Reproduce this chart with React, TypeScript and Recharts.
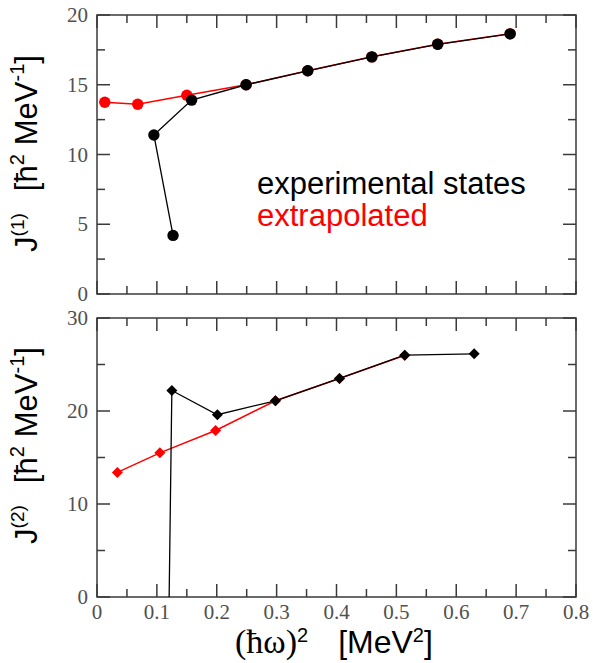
import { Label, Legend, ReferenceArea, Scatter, ScatterChart, XAxis, YAxis } from "recharts";

// tick values
const omegaTicks = [0, 0.05, 0.1, 0.15, 0.2, 0.25, 0.3, 0.35, 0.4, 0.45, 0.5, 0.55, 0.6, 0.65, 0.7, 0.75, 0.8];
const j1Ticks = [0, 2.5, 5, 7.5, 10, 12.5, 15, 17.5, 20];
const j2Ticks = [0, 5, 10, 15, 20, 25, 30];

// J(1) - points listed in the order they are joined
const j1ExpOmega2 = [0.127, 0.095, 0.158, 0.249, 0.352, 0.459, 0.569, 0.69];
const j1ExpValues = [4.2, 11.4, 13.9, 15.0, 16.0, 17.0, 17.9, 18.65];
const j1ExtOmega2 = [0.013, 0.068, 0.15, 0.249, 0.352, 0.459, 0.569, 0.69];
const j1ExtValues = [13.75, 13.6, 14.25, 15.0, 16.0, 17.0, 17.9, 18.65];

// J(2)
const j2ExpOmega2 = [0.1205, 0.125, 0.201, 0.298, 0.405, 0.514, 0.63];
const j2ExpValues = [0, 22.2, 19.6, 21.1, 23.5, 26.0, 26.15];
const j2ExtOmega2 = [0.034, 0.105, 0.198, 0.298, 0.405, 0.514];
const j2ExtValues = [13.4, 15.5, 17.9, 21.1, 23.5, 26.0];

const seriesNames = ["experimental states", "extrapolated"];

const zip = (xs: number[], ys: number[]) => xs.map((x, i) => ({ x, y: ys[i] }));

const RED = "#ff0000";
const FRAME = "#3a3a3a";
const TICK_TEXT = "#505050";
const W = 593;
const PLOT_RIGHT = 576;

const isMajor = (v: number, step: number) => Math.abs(v / step - Math.round(v / step)) < 1e-6;

const makeXTick = (plotTop: number, labels: boolean) => (props: any) => {
  const { x, y, payload } = props;
  const major = isMajor(payload.value, 0.1);
  const len = major ? 13 : 8;
  return (
    <g>
      <line x1={x} x2={x} y1={y} y2={y - len} stroke={FRAME} strokeWidth={1.5} />
      <line x1={x} x2={x} y1={plotTop} y2={plotTop + len} stroke={FRAME} strokeWidth={1.5} />
      {labels && major && (
        <text x={x} y={y + 15} textAnchor="middle" dominantBaseline="central" fontSize={21} fontFamily="Liberation Serif" fill={TICK_TEXT}>
          {payload.value === 0 ? "0" : payload.value.toFixed(1)}
        </text>
      )}
    </g>
  );
};

const makeYTick = (step: number) => (props: any) => {
  const { x, y, payload } = props;
  const major = isMajor(payload.value, step);
  const len = major ? 13 : 8;
  return (
    <g>
      <line x1={x} x2={x + len} y1={y} y2={y} stroke={FRAME} strokeWidth={1.5} />
      <line x1={PLOT_RIGHT} x2={PLOT_RIGHT - len} y1={y} y2={y} stroke={FRAME} strokeWidth={1.5} />
      {major && (
        <text x={x - 9} y={y} textAnchor="end" dominantBaseline="central" fontSize={21} fontFamily="Liberation Serif" fill={TICK_TEXT}>
          {payload.value}
        </text>
      )}
    </g>
  );
};

const dot = (color: string) => (props: any) => {
  const { cx, cy } = props;
  return <circle cx={cx} cy={cy} r={5.7} fill={color} />;
};

const diamond = (color: string) => (props: any) => {
  const { cx, cy, payload } = props;
  if (payload.y <= 0) return <g />;
  const r = 5.5;
  return <polygon points={`${cx},${cy - r} ${cx + r},${cy} ${cx},${cy + r} ${cx - r},${cy}`} fill={color} />;
};

const yTitle = (order: string, shift: number) => (props: any) => {
  const vb = props.viewBox;
  const cx = 37;
  const cy = vb.y + vb.height / 2 + shift;
  return (
    <text transform={`rotate(-90 ${cx} ${cy})`} x={cx} y={cy} textAnchor="middle" fontSize={31} fontFamily="Liberation Sans" fill="#000">
      <tspan>J</tspan>
      <tspan fontSize={19} dy={-13}>({order})</tspan>
      <tspan dy={13} dx={22}>[ħ</tspan>
      <tspan fontSize={20} dy={-13}>2</tspan>
      <tspan dy={13} dx={9}>MeV</tspan>
      <tspan fontSize={20} dy={-13}>-1</tspan>
      <tspan dy={13}>]</tspan>
    </text>
  );
};

const xTitle = () => (
  <text x={235} y={297 + 56} fontSize={32} fill="#000" fontFamily="Liberation Sans">
    <tspan fontFamily="Liberation Serif" fontSize={34}>(ħω)</tspan>
    <tspan fontSize={20} dy={-11}>2</tspan>
    <tspan dy={11} dx={30}>[MeV</tspan>
    <tspan fontSize={20} dy={-11}>2</tspan>
    <tspan dy={11}>]</tspan>
  </text>
);

const LegendBox = (props: any) => {
  const items = [...(props.payload || [])].sort(
    (a: any, b: any) => seriesNames.indexOf(a.value) - seriesNames.indexOf(b.value),
  );
  return (
    <div style={{ fontFamily: "Liberation Sans", fontSize: 31, lineHeight: "32px" }}>
      {items.map((it: any) => (
        <div key={it.value} style={{ color: it.color, height: 32 }}>{it.value}</div>
      ))}
    </div>
  );
};

export default function App() {
  return (
    <div style={{ position: "absolute", left: 0, top: 0, width: W, height: 663, background: "#fff", fontFamily: "Liberation Sans" }}>
      <ScatterChart width={W} height={310} margin={{ top: 15, right: W - PLOT_RIGHT, bottom: 10, left: 0 }}>
        <XAxis type="number" dataKey="x" domain={[0, 0.8]} ticks={omegaTicks} interval={0} height={6} tickSize={0} tickMargin={0} axisLine={false} tickLine={false} tick={makeXTick(15, false)} allowDataOverflow />
        <YAxis type="number" dataKey="y" domain={[0, 20]} ticks={j1Ticks} interval={0} width={97} tickSize={0} tickMargin={0} axisLine={false} tickLine={false} tick={makeYTick(5)} allowDataOverflow>
          <Label content={yTitle("1", -1)} />
        </YAxis>
        <ReferenceArea x1={0} x2={0.8} y1={0} y2={20} fill="none" stroke={FRAME} strokeWidth={1.5} fillOpacity={0} />
        <Scatter name={seriesNames[1]} data={zip(j1ExtOmega2, j1ExtValues)} fill={RED} line={{ stroke: RED, strokeWidth: 1.5 }} shape={dot(RED)} isAnimationActive={false} />
        <Scatter name={seriesNames[0]} data={zip(j1ExpOmega2, j1ExpValues)} fill="#000" line={{ stroke: "#000", strokeWidth: 1.3 }} shape={dot("#000")} isAnimationActive={false} />
        <Legend layout="horizontal" verticalAlign="middle" align="center" content={LegendBox} wrapperStyle={{ position: "absolute", left: 257, top: 168, width: 330 }} />
      </ScatterChart>
      <div style={{ position: "absolute", left: 0, top: 300 }}>
        <ScatterChart width={W} height={363} margin={{ top: 18, right: W - PLOT_RIGHT, bottom: 0, left: 0 }}>
          <XAxis type="number" dataKey="x" domain={[0, 0.8]} ticks={omegaTicks} interval={0} height={66} tickSize={0} tickMargin={0} axisLine={false} tickLine={false} tick={makeXTick(18, true)} allowDataOverflow>
            <Label content={xTitle} />
          </XAxis>
          <YAxis type="number" dataKey="y" domain={[0, 30]} ticks={j2Ticks} interval={0} width={97} tickSize={0} tickMargin={0} axisLine={false} tickLine={false} tick={makeYTick(10)} allowDataOverflow>
            <Label content={yTitle("2", -12)} />
          </YAxis>
          <ReferenceArea x1={0} x2={0.8} y1={0} y2={30} fill="none" stroke={FRAME} strokeWidth={1.5} fillOpacity={0} />
          <Scatter name={seriesNames[1]} data={zip(j2ExtOmega2, j2ExtValues)} fill={RED} line={{ stroke: RED, strokeWidth: 1.5 }} shape={diamond(RED)} isAnimationActive={false} />
          <Scatter name={seriesNames[0]} data={zip(j2ExpOmega2, j2ExpValues)} fill="#000" line={{ stroke: "#000", strokeWidth: 1.3 }} shape={diamond("#000")} isAnimationActive={false} />
        </ScatterChart>
      </div>
    </div>
  );
}
